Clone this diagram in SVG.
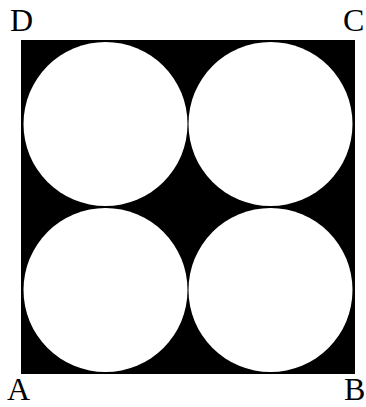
<svg xmlns="http://www.w3.org/2000/svg" width="366" height="407" viewBox="0 0 366 407">
<style>
.lbl{font-family:"Liberation Serif","Times New Roman",serif;font-size:32px;fill:#000}
.c{fill:#fff}
</style>
<rect width="366" height="407" fill="#fff"/>
<g id="square"><rect x="21" y="40" width="334" height="334" fill="#000"/></g>
<g id="circles">
<circle class="c" cx="105.5" cy="124" r="82"/>
<circle class="c" cx="270.5" cy="124" r="82"/>
<circle class="c" cx="105.5" cy="290" r="82"/>
<circle class="c" cx="270.5" cy="290" r="82"/>
</g>
<g id="labels">
<text class="lbl" x="7" y="400">A</text>
<text class="lbl" x="344" y="400">B</text>
<text class="lbl" x="343" y="31">C</text>
<text class="lbl" x="10" y="31">D</text>
</g>
</svg>
